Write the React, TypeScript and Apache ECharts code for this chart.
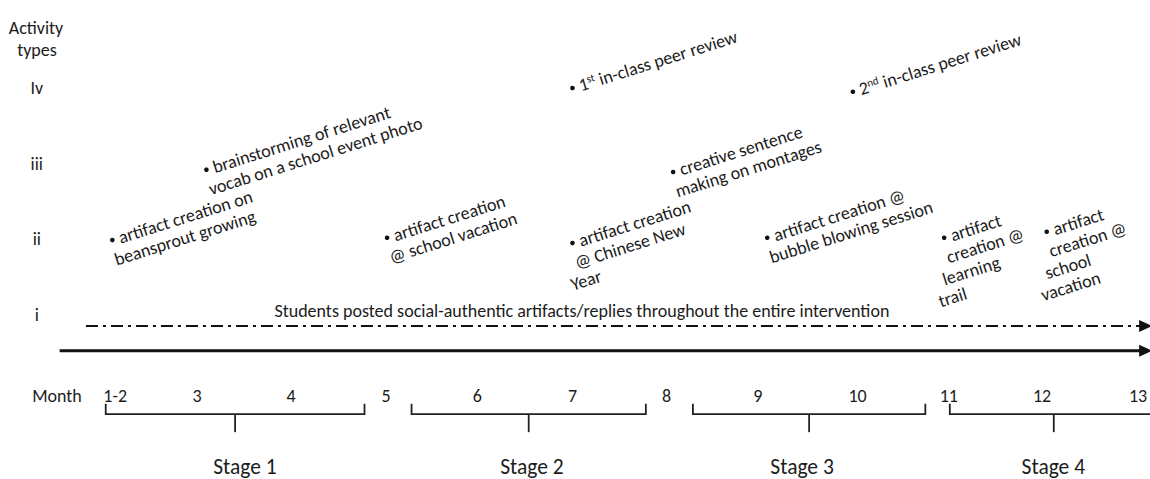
import React, { useEffect, useRef } from "react";
import * as echarts from "echarts";

const FONT = "Carlito, Calibri, Lato, sans-serif";
const TEXT = "#1c1c1c";
const LINE = "#111111";
const ROT = (17.5 * Math.PI) / 180;

// Activity type levels (y axis)
const levelValues = [1, 2, 3, 4];
const levelLabels = ["i", "ii", "iii", "Iv"];

// Month axis (x axis)
const monthLabels = ["1-2", "3", "4", "5", "6", "7", "8", "9", "10", "11", "12", "13"];
const monthPositions = [2.13, 3, 4, 5.01, 5.98, 6.99, 7.99, 8.96, 10.02, 10.99, 11.98, 13];

// Activities: month position, activity level, text lines
const activityX = [2.1, 3.1, 5.02, 6.99, 6.99, 8.06, 9.97, 9.06, 10.94, 12.03];
const activityLevel = [1.99, 2.92, 2.02, 4.0, 1.95, 2.89, 3.95, 2.02, 2.02, 2.1];
const activityText = [
  ["artifact creation on", "beansprout growing"],
  ["brainstorming of relevant", "vocab on a school event photo"],
  ["artifact creation", "@ school vacation"],
  ["1{sup|st} in-class peer review"],
  ["artifact creation", "@ Chinese New", "Year"],
  ["creative sentence", "making on montages"],
  ["2{sup|nd} in-class peer review"],
  ["artifact creation @", "bubble blowing session"],
  ["artifact", "creation @", "learning", "trail"],
  ["artifact", "creation @", "school", "vacation"],
];

// Ongoing activity (type i) across the whole intervention
const ongoingText =
  "Students posted social-authentic artifacts/replies throughout the entire intervention";
const ongoingStart = 1.82;
const ongoingEnd = 13.15;
const ongoingLevel = 1;
const ongoingLabelX = 7.09;

// Time line
const timelineStart = 1.54;
const timelineEnd = 13.15;

// Stages
const stageLabels = ["Stage 1", "Stage 2", "Stage 3", "Stage 4"];
const stageStart = [2.03, 5.28, 8.27, 11.0];
const stageEnd = [4.78, 7.77, 10.74, 13.21];
const stageLabelPos = [3.51, 6.56, 9.43, 12.1];

const BODY = 18;

export default function App() {
  const ref = useRef<HTMLDivElement>(null);

  useEffect(() => {
    document.body.style.margin = "0";
    if (!ref.current) return;
    const chart = echarts.init(ref.current, undefined, { renderer: "svg" });

    const textStyle = (text: string, extra: any = {}) => ({
      text,
      fill: TEXT,
      fontSize: BODY,
      fontFamily: FONT,
      ...extra,
    });

    const option: any = {
      animation: false,
      backgroundColor: "#ffffff",
      grid: {
        left: 8.8,
        width: 1129.2,
        top: 12.3,
        height: 378.35,
        containLabel: false,
        outerBoundsMode: "none",
      },
      xAxis: {
        type: "value",
        min: 1,
        max: 13,
        splitLine: { show: false },
        axisLine: { show: false },
        axisTick: { show: false },
        axisLabel: {
          customValues: monthPositions,
          formatter: (v: number) => {
            const i = monthPositions.findIndex((p) => Math.abs(p - v) < 1e-6);
            return i >= 0 ? monthLabels[i] : "";
          },
          margin: 5,
          verticalAlign: "middle",
          color: TEXT,
          fontSize: BODY,
          fontFamily: FONT,
          hideOverlap: false,
        },
      },
      yAxis: {
        type: "value",
        min: 0,
        max: 5,
        interval: 1,
        splitLine: { show: false },
        axisLine: { show: false },
        axisTick: { show: false },
        axisLabel: {
          inside: true,
          margin: 28,
          align: "center",
          color: TEXT,
          fontSize: BODY,
          fontFamily: FONT,
          formatter: (v: number) => {
            const i = levelValues.indexOf(v);
            return i >= 0 ? levelLabels[i] : "";
          },
        },
      },
      graphic: [
        { type: "text", x: 36, y: 28, silent: true, style: textStyle("Activity", { align: "center", verticalAlign: "middle" }) },
        { type: "text", x: 37, y: 50, silent: true, style: textStyle("types", { align: "center", verticalAlign: "middle" }) },
        { type: "text", x: 57, y: 396, silent: true, style: textStyle("Month", { align: "center", verticalAlign: "middle" }) },
      ],
      series: [
        {
          type: "custom",
          name: "timeline",
          coordinateSystem: "cartesian2d",
          clip: false,
          silent: true,
          data: [[timelineStart, timelineEnd]],
          renderItem: (params: any, api: any) => {
            const x0 = api.coord([api.value(0), 0])[0];
            const x1 = api.coord([api.value(1), 0])[0];
            const y = api.coord([1, 0])[1] - 40;
            return {
              type: "group",
              children: [
                { type: "line", shape: { x1: x0, y1: y, x2: x1 - 10, y2: y }, style: { stroke: LINE, lineWidth: 3 } },
                { type: "polygon", shape: { points: [[x1 - 13, y - 6], [x1, y], [x1 - 13, y + 6]] }, style: { fill: LINE } },
              ],
            };
          },
        },
        {
          type: "custom",
          name: "ongoing",
          coordinateSystem: "cartesian2d",
          clip: false,
          silent: true,
          data: [[ongoingStart, ongoingEnd, ongoingLevel, ongoingLabelX]],
          renderItem: (params: any, api: any) => {
            const x0 = api.coord([api.value(0), 0])[0];
            const x1 = api.coord([api.value(1), 0])[0];
            const y = api.coord([1, api.value(2)])[1];
            const xl = api.coord([api.value(3), 0])[0];
            const ly = y + 11;
            return {
              type: "group",
              children: [
                { type: "text", x: xl, y: y - 4, style: textStyle(ongoingText, { align: "center", verticalAlign: "middle" }) },
                { type: "line", shape: { x1: x0, y1: ly, x2: x1 - 10, y2: ly }, style: { stroke: LINE, lineWidth: 2.2, lineDash: [12, 5, 3, 5] } },
                { type: "polygon", shape: { points: [[x1 - 13, ly - 6], [x1, ly], [x1 - 13, ly + 6]] }, style: { fill: LINE } },
              ],
            };
          },
        },
        {
          type: "custom",
          name: "activities",
          coordinateSystem: "cartesian2d",
          clip: false,
          silent: true,
          data: activityX.map((x, i) => [x, activityLevel[i]]),
          renderItem: (params: any, api: any) => {
            const i = params.dataIndex;
            const [px, py] = api.coord([api.value(0), api.value(1)]);
            const children: any[] = [
              { type: "circle", shape: { cx: px, cy: py, r: 2.3 }, style: { fill: LINE } },
            ];
            activityText[i].forEach((line, j) => {
              children.push({
                type: "text",
                x: px - 4 * j,
                y: py + 22 * j,
                rotation: ROT,
                style: textStyle(line, {
                  x: 7,
                  y: 0,
                  align: "left",
                  verticalAlign: "middle",
                  rich: {
                    sup: { fontSize: 11, fontFamily: FONT, fill: TEXT, verticalAlign: "top" },
                  },
                }),
              });
            });
            return { type: "group", children };
          },
        },
        {
          type: "custom",
          name: "stages",
          coordinateSystem: "cartesian2d",
          clip: false,
          silent: true,
          data: stageStart.map((s, i) => [s, stageEnd[i], stageLabelPos[i]]),
          renderItem: (params: any, api: any) => {
            const i = params.dataIndex;
            const xs = api.coord([api.value(0), 0])[0];
            const xe = api.coord([api.value(1), 0])[0];
            const xl = api.coord([api.value(2), 0])[0];
            const xm = (xs + xe) / 2;
            const base = api.coord([1, 0])[1];
            const ls = { stroke: "#222222", lineWidth: 1.8, fill: null };
            return {
              type: "group",
              children: [
                {
                  type: "polyline",
                  shape: { points: [[xs, base + 13], [xs, base + 23.5], [xe, base + 23.5], [xe, base + 13]] },
                  style: ls,
                },
                { type: "line", shape: { x1: xm, y1: base + 23.5, x2: xm, y2: base + 41.5 }, style: ls },
                {
                  type: "text",
                  x: xl,
                  y: base + 76,
                  style: textStyle(stageLabels[i], { fontSize: 21.5, align: "center", verticalAlign: "middle" }),
                },
              ],
            };
          },
        },
      ],
    };

    chart.setOption(option);
    return () => chart.dispose();
  }, []);

  return <div ref={ref} style={{ width: 1150, height: 479 }} />;
}
